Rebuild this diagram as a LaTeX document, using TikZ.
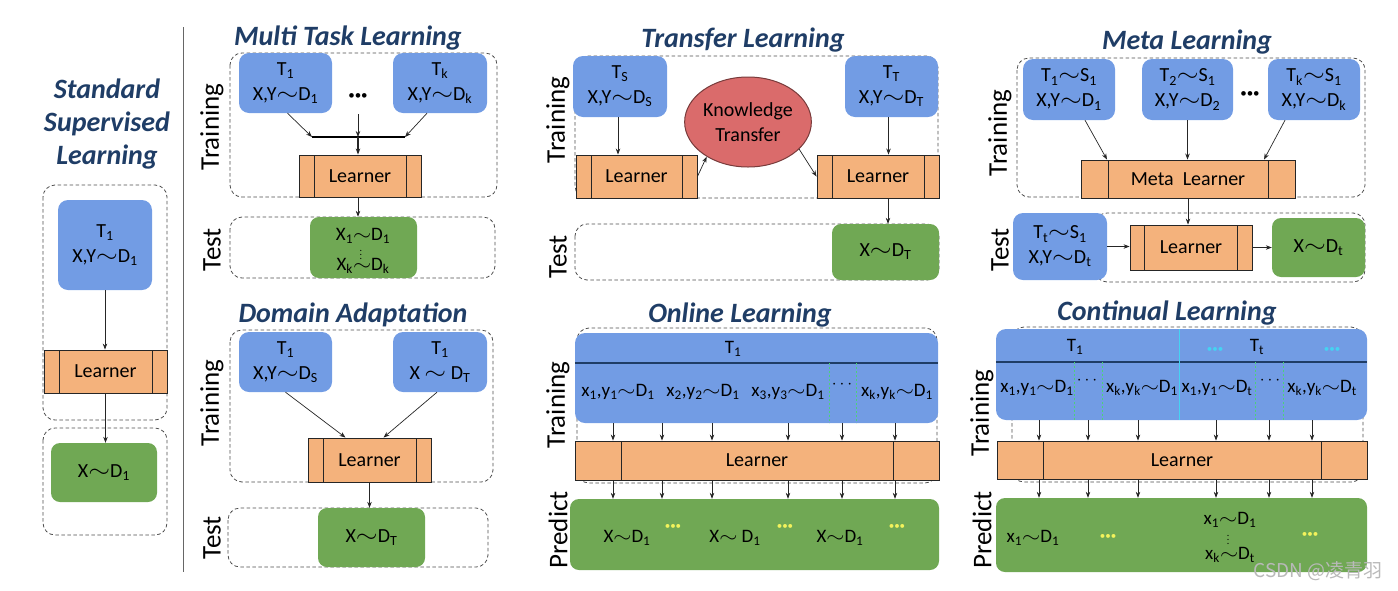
\documentclass[tikz,border=0pt]{standalone}
\usepackage{fontspec}
\usepackage{graphicx}
\setmainfont{Carlito}
\newfontfamily\cjkfont{Noto Sans CJK SC}
\usetikzlibrary{arrows.meta,shapes.geometric}
\definecolor{taskblue}{HTML}{729CE4}
\definecolor{resgreen}{HTML}{70A854}
\definecolor{lrnorange}{HTML}{F4B27C}
\definecolor{ktred}{HTML}{DA6B6B}
\definecolor{ttlblue}{HTML}{1F3D66}
\definecolor{dotyellow}{HTML}{F2F25C}
\definecolor{dotcyan}{HTML}{45D3F2}
\definecolor{sepgreen}{HTML}{4CD07A}
\newcommand{\smp}{\scalebox{1.35}[1.1]{\ensuremath{\sim}}}
\newcommand{\subx}[1]{\textsubscript{#1}}

\begin{document}
\begin{tikzpicture}[x=1pt, y=-1pt,
    sz/.style 2 args={minimum width=#1pt, minimum height=#2pt},
    task/.style={fill=taskblue, rounded corners=10pt, inner sep=0pt, align=center, font=\fontsize{20}{25}\selectfont},
    res/.style={fill=resgreen, rounded corners=9pt, inner sep=0pt, align=center, font=\fontsize{20}{25}\selectfont},
    lrn/.style={draw=black!85, line width=0.9pt, fill=lrnorange, inner sep=0pt, font=\fontsize{20}{25}\selectfont,
                path picture={\draw[line width=0.9pt]
                  ([xshift=#1]path picture bounding box.north west) -- ([xshift=#1]path picture bounding box.south west)
                  ([xshift=-#1]path picture bounding box.north east) -- ([xshift=-#1]path picture bounding box.south east);}},
    lrn/.default=15pt,
    kt/.style={ellipse, draw=ktred!55!black, line width=1pt, fill=ktred, inner sep=0pt, align=center, font=\fontsize{20}{25}\selectfont},
    itm/.style={inner sep=0pt, font=\fontsize{19}{22}\selectfont},
    more/.style={inner sep=0pt, font=\fontsize{13}{13}\selectfont},
    ydots/.style={inner sep=0pt, text=dotyellow, font=\fontsize{11}{11}\selectfont},
    cdots/.style={inner sep=0pt, text=dotcyan, font=\fontsize{11}{11}\selectfont},
    ttl/.style={align=center, text=ttlblue, font=\fontsize{28}{33}\selectfont\bfseries\itshape},
    phs/.style={rotate=90, font=\fontsize{27}{30}\selectfont},
    grp/.style={draw=black!70, dash pattern=on 3.5pt off 2.5pt, line width=0.8pt, rounded corners=12pt},
    sepl/.style={sepgreen, dash pattern=on 2pt off 2pt, line width=0.8pt},
    arr/.style={-{Stealth[length=6pt,width=4.5pt]}, line width=0.7pt, black!85}
  ]
  \useasboundingbox (0,0) rectangle (1398,590);

  \node[ttl] (sslTitle) at (107,124) {Standard\\Supervised\\Learning};
  \draw[grp] (43,185) rectangle (167,420);
  \draw[grp] (43,428) rectangle (167,535);
  \node[task, sz={94}{90}] (sslTask) at (105,245) {T\subx{1}\\X,Y\smp D\subx{1}};
  \node[lrn, sz={123}{43}] (sslLrn) at (105.5,371.5) {Learner};
  \node[res, sz={106}{59}] (sslRes) at (104,472.5) {X\smp D\subx{1}};
  \draw[arr] (sslTask) -- (sslTask |- sslLrn.north);
  \draw[arr] (sslLrn) -- (sslLrn |- sslRes.north);
  \draw[black!60, line width=0.8pt] (183,27) -- (183,572);

  \node[ttl] (mtTitle) at (348,38) {Multi Task Learning};
  \draw[grp] (230,53) rectangle (497,197);
  \draw[grp] (230,217) rectangle (495,278);
  \node[phs] (mtTrain) at (212,127) {Training};
  \node[phs] (mtTest) at (212,250) {Test};
  \node[task, sz={93}{60}] (mt1) at (285.5,83) {T\subx{1}\\X,Y\smp D\subx{1}};
  \node[task, sz={94}{60}] (mtk) at (440,83) {T\subx{k}\\X,Y\smp D\subx{k}};
  \node[more] (mtDots) at (358,97) {\textbullet\textbullet\textbullet};
  \node[lrn, sz={122}{42}] (mtLrn) at (360,176) {Learner};
  \node[res, sz={107}{61}] (mtRes) at (363.5,247.5) {};
  \node[itm] (mtR1) at (363,236) {X\subx{1}\smp D\subx{1}};
  \node[itm] (mtRv) at (361,252) {\fontsize{10}{10}\selectfont$\vdots$};
  \node[itm] (mtRk) at (363,266) {X\subx{k}\smp D\subx{k}};
  \coordinate (mtBarL) at (312,137);
  \coordinate (mtBarM) at (358,137);
  \coordinate (mtBarR) at (405,137);
  \draw[line width=2.4pt] (mtBarL) -- (mtBarR);
  \draw[arr] ([xshift=2pt]mt1.south) -- (mtBarL);
  \draw[arr] ([xshift=-13pt]mtk.south) -- (mtBarR);
  \draw[arr] ([yshift=-14pt]mtDots.south) -- (mtBarM);
  \draw[arr, line width=1.6pt] (mtBarM) -- (mtBarM |- mtLrn.north);
  \draw[arr] (mtBarM |- mtLrn.south) -- (mtBarM |- mtRes.north);

  \node[ttl] (daTitle) at (353,315) {Domain Adaptation};
  \draw[grp] (230,330) rectangle (493,482);
  \draw[grp] (228,508) rectangle (488,567);
  \node[phs] (daTrain) at (212,403) {Training};
  \node[phs] (daTest) at (212,538) {Test};
  \node[task, sz={93}{60}] (daSrc) at (285.5,362) {T\subx{1}\\X,Y\smp D\subx{S}};
  \node[task, sz={94}{60}] (daTgt) at (440,362) {T\subx{1}\\X \smp\ D\subx{T}};
  \node[lrn, sz={123}{44}] (daLrn) at (369.5,460) {Learner};
  \node[res, sz={107}{59}] (daRes) at (371.5,537.5) {X\smp D\subx{T}};
  \draw[arr] (daSrc.south) -- ([xshift=-24pt]daLrn.north);
  \draw[arr] ([xshift=-3pt]daTgt.south) -- ([xshift=14pt]daLrn.north);
  \draw[arr] (daLrn) -- (daLrn |- daRes.north);

  \node[ttl] (tlTitle) at (743,40) {Transfer Learning};
  \draw[grp] (575,56) rectangle (938,198);
  \draw[grp] (575,224) rectangle (939,280);
  \node[phs] (tlTrain) at (558,120) {Training};
  \node[phs] (tlTest) at (558,257) {Test};
  \node[task, sz={94}{61}] (tlSrc) at (620,86.5) {T\subx{S}\\X,Y\smp D\subx{S}};
  \node[task, sz={93}{61}] (tlTgt) at (891.5,86.5) {T\subx{T}\\X,Y\smp D\subx{T}};
  \node[kt, sz={110}{90}] (tlKT) at (748,122) {Knowledge\\Transfer};
  \node[lrn, sz={121}{43}] (tlLrnS) at (636.5,176.5) {Learner};
  \node[lrn, sz={122}{43}] (tlLrnT) at (878,176.5) {Learner};
  \node[res, sz={107}{56}] (tlRes) at (885.5,252) {X\smp D\subx{T}};
  \draw[arr] ([xshift=-2pt]tlSrc.south) -- ([xshift=-2pt]tlSrc.south |- tlLrnS.north);
  \draw[arr] ([xshift=-3pt]tlTgt.south) -- ([xshift=-3pt]tlTgt.south |- tlLrnT.north);
  \draw[arr] (tlLrnS.east) -- (tlKT.220);
  \draw[arr] (tlKT.-28) -- (tlLrnT.west);
  \draw[arr] ([xshift=10pt]tlLrnT.south) -- ([xshift=10pt]tlLrnT.south |- tlRes.north);

  \node[ttl] (mlTitle) at (1187,42) {Meta Learning};
  \draw[grp] (1017,58) rectangle (1365,197);
  \draw[grp] (1095,213) rectangle (1365,282);
  \node[phs] (mlTrain) at (1000,133) {Training};
  \node[phs] (mlTest) at (1000,250) {Test};
  \node[task, sz={92}{61}] (ml1) at (1069,89.5) {T\subx{1}\smp S\subx{1}\\X,Y\smp D\subx{1}};
  \node[task, sz={91}{61}] (ml2) at (1187.5,89.5) {T\subx{2}\smp S\subx{1}\\X,Y\smp D\subx{2}};
  \node[task, sz={92}{61}] (mlk) at (1314,89.5) {T\subx{k}\smp S\subx{1}\\X,Y\smp D\subx{k}};
  \node[more] (mlDots) at (1250,95) {\textbullet\textbullet\textbullet};
  \node[lrn=27pt, sz={214}{38}] (mlMeta) at (1188,179) {Meta\ \ Learner};
  \node[task, sz={94}{67}] (mlTt) at (1060,246.5) {T\subx{t}\smp S\subx{1}\\X,Y\smp D\subx{t}};
  \node[lrn=14.5pt, sz={122}{45}] (mlLrn) at (1191,247.5) {Learner};
  \node[res, sz={93}{59}] (mlRes) at (1318.5,247.5) {X\smp D\subx{t}};
  \draw[arr] ([xshift=16pt]ml1.south) -- ([xshift=-81pt]mlMeta.north);
  \draw[arr] (ml2) -- (ml2 |- mlMeta.north);
  \draw[arr] ([xshift=-29pt]mlk.south) -- ([xshift=76pt]mlMeta.north);
  \draw[arr] (mlMeta) -- (mlMeta |- mlLrn.north);
  \draw[arr] (mlTt) -- (mlTt -| mlLrn.west);
  \draw[arr] (mlLrn) -- (mlLrn -| mlRes.west);

  \node[ttl] (olTitle) at (740,315) {Online Learning};
  \draw[grp] (577,328) rectangle (937,483);
  \node[phs] (olTrain) at (558,405) {Training};
  \node[phs] (olPred) at (558,530) {Predict};
  \node[task, sz={363}{90}] (olTask) at (756.5,378) {};
  \draw[line width=1.4pt, ttlblue] ([yshift=-30pt]olTask.north west) -- ([yshift=-30pt]olTask.north east);
  \draw[sepl] (829,363) -- (829,423);
  \draw[sepl] (856,363) -- (856,423);
  \node[itm] (olT) at (733,349) {T\subx{1}};
  \node[itm] (olX1) at (618,392) {x\subx{1},y\subx{1}\smp D\subx{1}};
  \node[itm] (olX2) at (703,392) {x\subx{2},y\subx{2}\smp D\subx{1}};
  \node[itm] (olX3) at (788,392) {x\subx{3},y\subx{3}\smp D\subx{1}};
  \node[itm] (olXd) at (842,385) {$\cdots$};
  \node[itm] (olXk) at (897,392) {x\subx{k},y\subx{k}\smp D\subx{1}};
  \node[lrn=46pt, sz={364}{39}] (olLrn) at (757,460.5) {Learner};
  \node[res, sz={369}{71}] (olRes) at (754.5,534.5) {};
  \node[itm] (olP1) at (627,538) {X\smp D\subx{1}};
  \node[ydots] (olPd1) at (673,527) {\textbullet\textbullet\textbullet};
  \node[itm] (olP2) at (735,538) {X\smp\ D\subx{1}};
  \node[ydots] (olPd2) at (785,527) {\textbullet\textbullet\textbullet};
  \node[itm] (olP3) at (840,538) {X\smp D\subx{1}};
  \node[ydots] (olPd3) at (897,527) {\textbullet\textbullet\textbullet};
  \foreach \x in {613,662,712,788,842,895} {
    \coordinate (olc) at (\x,0);
    \draw[arr] (olc |- olTask.south) -- (olc |- olLrn.north);
    \draw[arr] (olc |- olLrn.south) -- (olc |- olRes.north);
  }

  \node[ttl] (clTitle) at (1167,313) {Continual Learning};
  \draw[grp] (1012,327) rectangle (1363,482);
  \node[phs] (clTrain) at (982,413) {Training};
  \node[phs] (clPred) at (982,530) {Predict};
  \node[task, sz={371}{91}] (clTask) at (1181.5,374.5) {};
  \draw[line width=1.4pt, ttlblue] ([yshift=-33pt]clTask.north west) -- ([yshift=-33pt]clTask.north east);
  \draw[dotcyan, line width=1pt] ([xshift=-2.5pt]clTask.north) -- ([xshift=-2.5pt]clTask.south);
  \foreach \x in {1074,1102,1255,1283}
    \draw[sepl] (\x,362) -- (\x,420);
  \node[itm] (clT1) at (1075,347) {T\subx{1}};
  \node[cdots] (clD1) at (1215,350) {\textbullet\textbullet\textbullet};
  \node[itm] (clTt) at (1257,347) {T\subx{t}};
  \node[cdots] (clD2) at (1332,350) {\textbullet\textbullet\textbullet};
  \node[itm] (clX1) at (1037,388) {x\subx{1},y\subx{1}\smp D\subx{1}};
  \node[itm] (clXd1) at (1087,381) {$\cdots$};
  \node[itm] (clXk) at (1142,388) {x\subx{k},y\subx{k}\smp D\subx{1}};
  \node[itm] (clX1t) at (1217,388) {x\subx{1},y\subx{1}\smp D\subx{t}};
  \node[itm] (clXd2) at (1270,381) {$\cdots$};
  \node[itm] (clXkt) at (1322,388) {x\subx{k},y\subx{k}\smp D\subx{t}};
  \node[lrn=46pt, sz={370}{38}] (clLrn) at (1182,460) {Learner};
  \node[res, sz={371}{74}] (clRes) at (1181.5,535) {};
  \node[itm] (clP1) at (1033,538) {x\subx{1}\smp D\subx{1}};
  \node[ydots] (clPd1) at (1108,537) {\textbullet\textbullet\textbullet};
  \node[itm] (clPa) at (1230,520) {x\subx{1}\smp D\subx{1}};
  \node[itm] (clPv) at (1228,537) {\fontsize{10}{10}\selectfont$\vdots$};
  \node[itm] (clPb) at (1230,555) {x\subx{k}\smp D\subx{t}};
  \node[ydots] (clPd2) at (1310,535) {\textbullet\textbullet\textbullet};
  \foreach \x in {1039,1088,1138,1216,1269,1312} {
    \coordinate (clc) at (\x,0);
    \draw[arr] (clc |- clTask.south) -- (clc |- clLrn.north);
    \draw[arr] (clc |- clLrn.south) -- (clc |- clRes.north);
  }

  \node[text=gray!55, font=\cjkfont\fontsize{19}{19}\selectfont] (mark) at (1318,571) {CSDN @凌青羽};
\end{tikzpicture}
\end{document}
